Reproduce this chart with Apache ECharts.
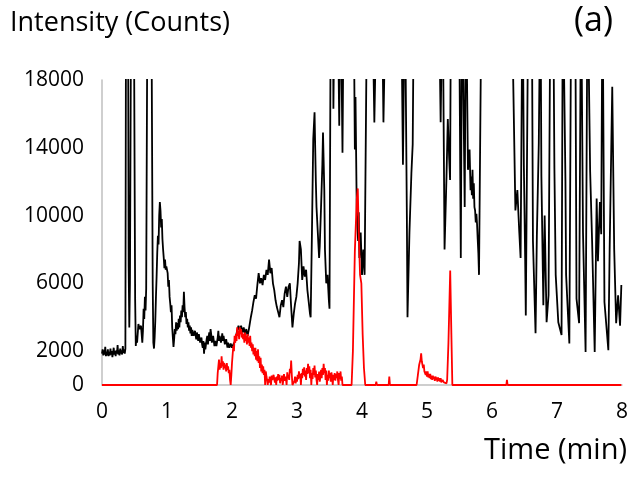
<!DOCTYPE html>
<html>
<head>
<meta charset="utf-8">
<script src="https://cdn.jsdelivr.net/npm/echarts@6.0.0/dist/echarts.min.js"></script>
<style>
  html, body { margin: 0; padding: 0; background: #fff; }
  #chart { width: 637px; height: 483px; }
</style>
</head>
<body>
<div id="chart"></div>
<script>
// tick labels shown on the axes
const yTickLabels = [0, 2000, 6000, 10000, 14000, 18000];
const xTickLabels = [0, 1, 2, 3, 4, 5, 6, 7, 8];

// black trace [time (min), counts] - values above 18000 run off the top
const blackTrace = [
  [0.00,1850],[0.01,2100],[0.02,1750],[0.03,2050],[0.04,1800],[0.05,2250],[0.06,1700],[0.07,1950],
  [0.08,1750],[0.09,2100],[0.10,1700],[0.11,1950],[0.12,1750],[0.13,2150],[0.14,1800],[0.15,2000],
  [0.16,1650],[0.17,1900],[0.18,2200],[0.19,1800],[0.20,2000],[0.21,1700],[0.22,2050],[0.23,1850],
  [0.24,2350],[0.25,1800],[0.26,2050],[0.27,1750],[0.28,2150],[0.29,1850],[0.30,2050],[0.31,1800],
  [0.32,2300],[0.33,1900],[0.34,2100],[0.35,1850],[0.36,2150],
  [0.37,24000],[0.39,25000],[0.40,24000],[0.41,7000],[0.42,3400],[0.43,6000],[0.45,25000],[0.47,24000],
  [0.49,23000],[0.51,5000],[0.52,2300],[0.53,2900],[0.54,2500],[0.56,3600],[0.58,3300],[0.60,3500],
  [0.62,2500],[0.63,3200],[0.64,4500],[0.65,3900],[0.66,5200],[0.67,4400],[0.68,5700],[0.70,24000],
  [0.72,25000],[0.74,24000],[0.76,23000],[0.78,6000],[0.79,2500],[0.80,2150],[0.81,2800],[0.82,3800],
  [0.83,5200],[0.84,6400],[0.85,7800],[0.86,8800],[0.87,8300],[0.88,10000],[0.89,10800],[0.90,10300],
  [0.91,9300],[0.92,9800],[0.93,8600],[0.94,8000],[0.95,7500],[0.96,6900],[0.97,7400],[0.98,6800],
  [0.99,7000],[1.01,6600],[1.02,5800],[1.03,6200],[1.04,5200],[1.05,4800],[1.06,4300],[1.07,4700],
  [1.08,3400],[1.09,2800],[1.10,2250],[1.11,2700],[1.12,3300],[1.13,3000],[1.14,3700],[1.15,3200],
  [1.16,3650],[1.17,3300],[1.18,3900],[1.19,3400],[1.20,4100],[1.21,3700],[1.22,4400],[1.23,4000],
  [1.24,4700],[1.25,4300],[1.26,5500],[1.27,4600],[1.28,4000],[1.29,4300],[1.30,3600],[1.31,3900],
  [1.32,3400],[1.33,3700],[1.34,3200],[1.35,3500],[1.36,3050],[1.37,3400],[1.38,2900],[1.39,3250],
  [1.40,3300],[1.41,2900],[1.42,2800],[1.43,3200],[1.44,3100],[1.45,2700],[1.46,3100],[1.47,3000],
  [1.48,2600],[1.49,3000],[1.50,2900],[1.51,2500],[1.52,2400],[1.53,2800],[1.54,2400],[1.55,2200],
  [1.56,2600],[1.57,1850],[1.58,2500],[1.59,2100],[1.60,2200],[1.61,2700],[1.62,2900],[1.63,2400],
  [1.64,2800],[1.65,3100],[1.66,2600],[1.67,3300],[1.68,3000],[1.69,2500],[1.70,2400],[1.71,2900],
  [1.72,2800],[1.73,2300],[1.74,2600],[1.75,2700],[1.76,2300],[1.77,2400],[1.78,2800],[1.79,3200],
  [1.80,2600],[1.81,2900],[1.82,3000],[1.83,2500],[1.84,2700],[1.85,3050],[1.86,2600],[1.87,2900],
  [1.88,2800],[1.89,2400],[1.90,2300],[1.91,2700],[1.92,2600],[1.93,2200],[1.94,2500],[1.95,2500],
  [1.96,2200],[1.97,2150],[1.98,2450],[1.99,2400],[2.00,2200],[2.01,2100],[2.02,2400],[2.03,2300],
  [2.04,2500],[2.05,2600],[2.06,2900],[2.07,2900],[2.08,3200],[2.09,3300],[2.10,3500],[2.11,3600],
  [2.12,3200],[2.13,3100],[2.14,3500],[2.15,3400],[2.16,3100],[2.17,3000],[2.18,3400],[2.19,3300],
  [2.20,3000],[2.21,2900],[2.22,3300],[2.23,3200],[2.24,2900],[2.25,3000],[2.26,3300],
  [2.27,3400],[2.29,4000],[2.31,4400],[2.33,4900],[2.35,5300],[2.37,5100],[2.39,5900],[2.41,6600],
  [2.43,6000],[2.45,6300],[2.47,5900],[2.49,6500],[2.51,6200],[2.53,6800],[2.55,6500],[2.57,7400],
  [2.59,6600],[2.61,6900],[2.63,6000],[2.65,5600],[2.67,5000],[2.69,4600],[2.71,4300],[2.73,4000],
  [2.75,4700],[2.77,5000],[2.79,4600],[2.81,5400],[2.83,5800],[2.85,5200],[2.87,5800],[2.89,6000],
  [2.91,4600],[2.93,3400],[2.95,4200],[2.97,4800],[2.99,5200],[3.01,6000],[3.03,7200],[3.04,8500],
  [3.06,8000],[3.08,6200],[3.10,7000],[3.12,6400],[3.14,6800],[3.16,5600],[3.18,4900],[3.20,4200],
  [3.21,4000],[3.23,9000],[3.25,14500],[3.27,16100],[3.28,14000],[3.29,12000],[3.30,10500],[3.32,9000],
  [3.34,7500],[3.35,8200],[3.37,10500],[3.39,13000],[3.40,14900],[3.42,11500],[3.43,8000],[3.45,6000],
  [3.47,6500],[3.49,5000],[3.50,4500],[3.52,24000],[3.55,25000],[3.56,16300],[3.58,24000],[3.62,25000],
  [3.65,15300],[3.67,24000],[3.70,13700],[3.72,24000],[3.80,25000],[3.87,24000],[3.89,13900],[3.90,17000],
  [3.92,10000],[3.94,8500],[3.95,10200],[3.96,7500],[3.98,9000],[4.00,6500],[4.02,8000],[4.04,6500],
  [4.08,24000],[4.15,25000],[4.19,15500],[4.23,24000],[4.30,25000],[4.33,15500],[4.37,24000],[4.50,25000],
  [4.60,24000],[4.63,13000],[4.66,24000],[4.69,10000],[4.70,4000],[4.73,9000],[4.76,12500],[4.78,14200],
  [4.80,24000],[5.00,25000],[5.18,24000],[5.21,15500],[5.24,24000],[5.27,8000],[5.30,12300],[5.32,15700],
  [5.34,13500],[5.355,12100],[5.37,24000],[5.49,25000],[5.52,7500],[5.54,24000],[5.58,10500],[5.60,24000],
  [5.63,12700],[5.655,13900],[5.67,11500],[5.68,12300],[5.69,11200],[5.70,12700],[5.71,11000],[5.72,11900],
  [5.73,10500],[5.74,10300],[5.75,9600],[5.76,10100],[5.77,9500],[5.78,8600],[5.79,7800],[5.80,6500],
  [5.84,24000],[6.00,25000],[6.30,24000],[6.36,10300],[6.39,11500],[6.42,9000],[6.44,7500],[6.47,24000],
  [6.49,13000],[6.51,7500],[6.52,4100],[6.56,24000],[6.61,25000],[6.63,8500],[6.67,3050],[6.69,8800],
  [6.72,14300],[6.745,24000],[6.76,12300],[6.79,4700],[6.81,10000],[6.84,3700],[6.87,5300],[6.90,24000],
  [6.94,24000],[6.96,12800],[6.98,6500],[7.02,3700],[7.07,2950],[7.09,24000],[7.13,12000],[7.14,6500],
  [7.19,2450],[7.22,24000],[7.28,24000],[7.30,5100],[7.34,3650],[7.37,24000],[7.40,9000],[7.44,1950],
  [7.47,24000],[7.51,12600],[7.54,8500],[7.58,1950],[7.61,11000],[7.63,7300],[7.66,10800],[7.68,8900],
  [7.70,24000],[7.72,24000],[7.73,4900],[7.79,2050],[7.81,8000],[7.85,17600],[7.88,8000],[7.91,3650],
  [7.94,5300],[7.97,3500],[7.99,5900]
];

// red trace [time (min), counts]
const redTrace = [
  [0.00,0],[1.77,0],[1.78,700],[1.79,1100],[1.80,1500],[1.81,900],[1.82,1300],[1.83,1000],[1.84,1700],
  [1.85,1100],[1.86,1400],[1.87,900],[1.88,1300],[1.89,1000],[1.90,1200],[1.91,800],[1.92,1300],
  [1.93,900],[1.94,1100],[1.95,700],[1.96,900],[1.97,300],[1.98,0],[1.99,600],[2.00,1300],[2.01,1800],
  [2.02,2300],[2.03,2000],[2.04,2900],[2.05,2500],[2.06,3000],[2.07,2600],[2.08,3400],[2.09,2900],
  [2.10,3200],[2.11,2700],[2.12,3400],[2.13,3000],[2.14,3300],[2.15,2800],[2.16,3100],[2.17,2700],
  [2.18,3000],[2.19,2500],[2.20,3100],[2.21,2600],[2.22,2900],[2.23,2400],[2.24,3000],[2.25,2500],
  [2.26,2800],[2.27,2300],[2.28,2900],[2.29,2200],[2.30,2500],[2.31,2000],[2.32,2400],[2.33,1800],
  [2.34,2200],[2.35,1700],[2.36,2200],[2.37,1500],[2.38,2000],[2.39,1400],[2.40,2100],[2.41,1300],
  [2.42,1700],[2.43,1000],[2.44,1600],[2.45,800],[2.46,1200],[2.47,700],[2.48,1100],[2.49,600],
  [2.50,900],[2.51,0],[2.52,800],[2.53,500],[2.54,300],
  [2.55,0],[2.56,350],[2.57,150],[2.58,500],[2.59,250],[2.60,0],[2.61,550],[2.62,300],[2.63,200],
  [2.64,600],[2.65,350],[2.66,150],[2.67,450],[2.68,0],[2.69,500],[2.70,250],[2.71,650],[2.72,300],
  [2.73,600],[2.74,100],[2.75,400],[2.76,250],[2.77,550],[2.78,0],[2.79,300],[2.80,650],[2.81,250],
  [2.82,500],[2.83,350],[2.84,0],[2.85,750],[2.86,400],[2.87,600],[2.88,300],[2.89,950],[2.90,700],
  [2.91,1450],[2.92,600],[2.93,0],[2.95,0],[2.96,250],[2.97,500],[2.98,100],[2.99,450],[3.00,200],
  [3.01,600],[3.02,350],[3.03,800],[3.04,400],[3.05,650],[3.06,0],[3.07,700],[3.08,400],[3.09,950],
  [3.10,600],[3.11,1050],[3.12,500],[3.13,850],[3.14,300],[3.15,1000],[3.16,650],[3.17,1250],[3.18,700],
  [3.19,1100],[3.20,400],[3.21,900],[3.22,0],[3.23,700],[3.24,350],[3.25,1000],[3.26,600],[3.27,1150],
  [3.28,450],[3.29,850],[3.30,300],[3.31,0],[3.32,650],[3.33,300],[3.34,800],[3.35,200],[3.36,500],
  [3.37,900],[3.38,400],[3.39,1000],[3.40,600],[3.41,1250],[3.42,700],[3.43,1000],[3.44,300],[3.45,850],
  [3.46,0],[3.47,600],[3.48,250],[3.49,850],[3.50,400],[3.51,700],[3.52,200],[3.53,750],[3.54,450],
  [3.55,0],[3.56,600],[3.57,300],[3.58,700],[3.59,250],[3.60,650],[3.61,400],[3.62,800],[3.63,300],
  [3.64,0],[3.65,700],[3.66,350],[3.67,800],[3.68,250],[3.69,500],[3.70,0],
  [3.84,0],[3.86,2000],[3.89,7900],[3.92,11000],[3.935,11600],[3.95,9000],[3.97,6500],[3.99,6000],
  [4.01,3000],[4.03,1000],[4.05,0],[4.21,0],[4.22,200],[4.23,0],[4.41,0],[4.42,500],[4.43,0],[4.84,0],
  [4.86,600],[4.88,1200],[4.90,1500],[4.91,1870],[4.92,1400],[4.93,1500],[4.94,1000],[4.95,1200],
  [4.96,800],[4.97,900],[4.98,600],[4.99,800],[5.00,500],[5.01,800],[5.02,450],[5.03,650],[5.04,400],
  [5.05,650],[5.06,350],[5.07,550],[5.08,300],[5.09,550],[5.10,350],[5.11,500],[5.12,250],[5.13,500],
  [5.14,300],[5.15,450],[5.16,200],[5.17,450],[5.18,250],[5.19,400],[5.20,200],[5.21,400],[5.22,150],
  [5.24,300],[5.26,150],[5.28,250],[5.30,100],[5.31,300],[5.33,2500],[5.357,6750],[5.375,3000],[5.39,0],
  [6.22,0],[6.23,300],[6.24,0],[7.99,0]
];

const FONT = '"Open Sans", "Liberation Sans", sans-serif';
const chart = echarts.init(document.getElementById('chart'));

chart.setOption({
  backgroundColor: '#fff',
  animation: false,
  grid: { left: 102, right: 15, top: 80, bottom: 98 },
  xAxis: {
    type: 'value', min: 0, max: 8, interval: 1,
    axisLine: { show: true, lineStyle: { color: '#bfbfbf', width: 1.5 } },
    axisTick: { show: false },
    splitLine: { show: false },
    axisLabel: {
      margin: 17, fontSize: 21, color: '#000', fontFamily: FONT,
      formatter: v => xTickLabels.includes(v) ? String(v) : ''
    }
  },
  yAxis: {
    type: 'value', min: 0, max: 18000, interval: 2000,
    axisLine: { show: true, lineStyle: { color: '#bfbfbf', width: 1.5 } },
    axisTick: { show: false },
    splitLine: { show: false },
    axisLabel: {
      margin: 18, fontSize: 21, color: '#000', fontFamily: FONT,
      formatter: v => yTickLabels.includes(v) ? String(v) : ''
    }
  },
  graphic: [
    { type: 'text', left: 10, top: 10,
      style: { text: 'Intensity (Counts)', fontSize: 27, fontFamily: FONT, fill: '#000' } },
    { type: 'text', left: 574, top: 4,
      style: { text: '(a)', fontSize: 34, fontFamily: FONT, fill: '#000' } },
    { type: 'text', left: 484, top: 436,
      style: { text: 'Time (min)', fontSize: 29, fontFamily: FONT, fill: '#000' } }
  ],
  series: [
    {
      type: 'line', data: blackTrace, showSymbol: false, clip: true,
      lineStyle: { color: '#000', width: 1.8 }
    },
    {
      type: 'line', data: redTrace, showSymbol: false, clip: true,
      lineStyle: { color: '#ff0000', width: 1.8 }
    }
  ]
});
</script>
</body>
</html>
